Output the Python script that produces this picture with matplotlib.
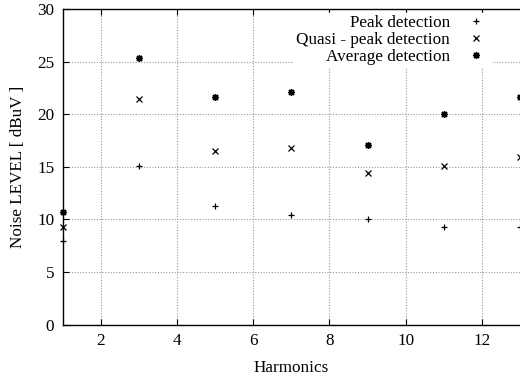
import matplotlib
matplotlib.use("Agg")
import matplotlib.pyplot as plt

harmonics = [1, 3, 5, 7, 9, 11, 13]
peak = [7.98, 15.1, 11.3, 10.4, 10.05, 9.32, 9.26]
quasi_peak = [9.31, 21.48, 16.52, 16.78, 14.4, 15.12, 15.9]
average = [10.74, 25.4, 21.7, 22.14, 17.07, 20.08, 21.67]

plt.rcParams['font.family'] = ['Liberation Serif', 'DejaVu Serif']
plt.rcParams['font.size'] = 12.3

fig = plt.figure(figsize=(5.2, 3.8), dpi=100)
ax = fig.add_axes([0.1204, 0.146, 0.8796, 0.8295])

ax.plot(harmonics, peak, linestyle='none', marker='+', markersize=5,
        markeredgewidth=0.9, color='black', label='Peak detection', clip_on=False)
ax.plot(harmonics, quasi_peak, linestyle='none', marker='x', markersize=4.5,
        markeredgewidth=0.9, color='black', label='Quasi - peak detection', clip_on=False)
ax.plot(harmonics, average, linestyle='none', marker=(8, 2, 0), markersize=5,
        markeredgewidth=1.0, color='black', label='Average detection', clip_on=False)

ax.set_xlim(1, 13)
ax.set_ylim(0, 30)
ax.set_xticks([2, 4, 6, 8, 10, 12])
ax.set_yticks([0, 5, 10, 15, 20, 25, 30])

ax.grid(True, linestyle=(0, (1, 1.5)), color='#999999', linewidth=0.8)
ax.set_axisbelow(True)

ax.spines['right'].set_visible(False)
for s in ['top', 'bottom', 'left']:
    ax.spines[s].set_linewidth(1.0)

ax.tick_params(direction='in', length=4, width=0.8, top=True, right=False, pad=6)

ax.set_xlabel('Harmonics', labelpad=8)
ax.set_ylabel('Noise LEVEL [ dBuV ]', labelpad=8)

leg = ax.legend(loc='upper right', bbox_to_anchor=(0.94, 0.995), markerfirst=False,
                frameon=True, fancybox=False, borderpad=0.15, labelspacing=0.05,
                handlelength=1.4, handletextpad=0.85, borderaxespad=0.1)
leg.get_frame().set_facecolor('white')
leg.get_frame().set_edgecolor('white')
leg.get_frame().set_alpha(1.0)
for t in leg.get_texts():
    t.set_ha('right')

fig.savefig('out.png', dpi=100)
